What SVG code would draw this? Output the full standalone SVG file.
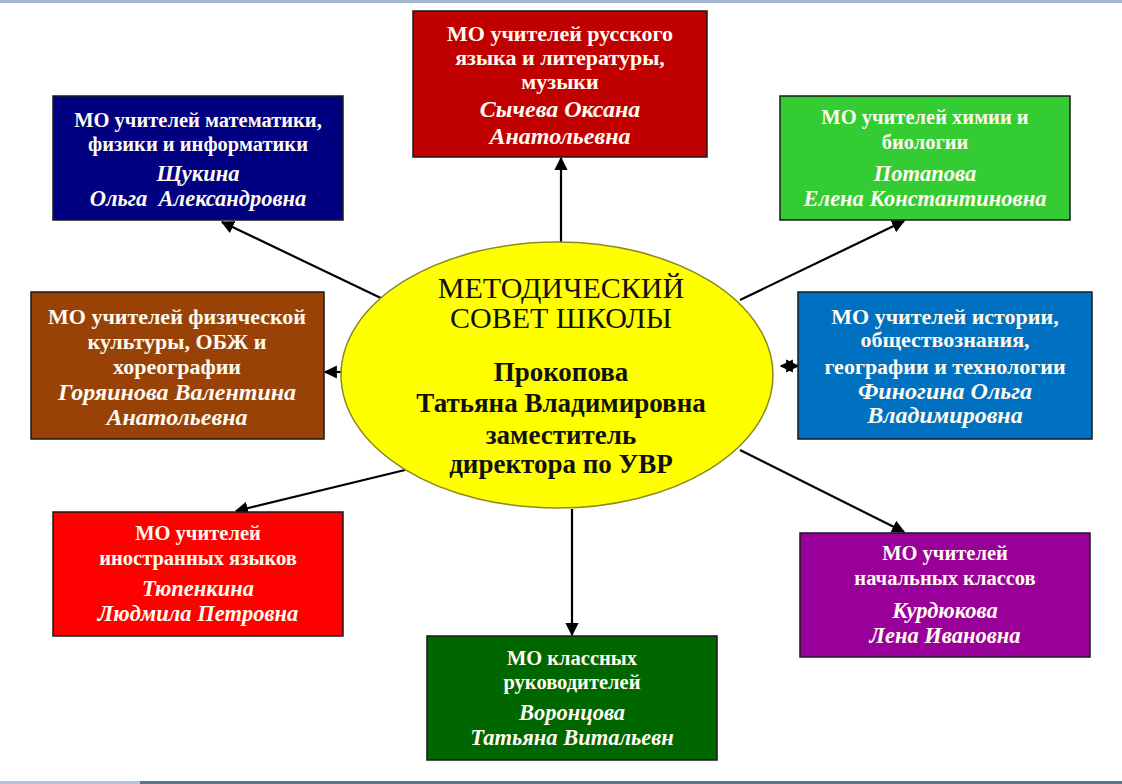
<svg xmlns="http://www.w3.org/2000/svg" width="1122" height="784" viewBox="0 0 1122 784">
<defs>
<style>
.box{stroke:#1a1a1a;stroke-width:1.5}
.t{font-family:"Liberation Serif",serif;font-weight:bold;fill:#fffbf0;text-anchor:middle}
.n{font-style:italic}
.s{font-size:20.5px}
.sn{font-size:22.5px}
.b{font-size:22px}
.bn{font-size:24px}
.c{font-family:"Liberation Serif",serif;fill:#111;text-anchor:middle}
.ln{stroke:#000;stroke-width:2.2;fill:none}
</style>
<marker id="ah" viewBox="0 0 10 10" refX="9" refY="5" markerWidth="6" markerHeight="6" markerUnits="strokeWidth" orient="auto-start-reverse">
<path d="M0,0 L10,5 L0,10 z" fill="#000"/>
</marker>
</defs>
<rect x="0" y="0" width="1122" height="784" fill="#ffffff"/>
<rect x="0" y="0" width="1122" height="3" fill="#a3b5cf"/>
<rect x="0" y="781" width="1122" height="3" fill="#5d7393"/>
<rect x="0" y="781" width="140" height="3" fill="#b6c4d8"/>

<g id="connectors">
<line class="ln" x1="561" y1="242" x2="561" y2="158" marker-end="url(#ah)"/>
<line class="ln" x1="385" y1="300" x2="222" y2="222" marker-end="url(#ah)"/>
<line class="ln" x1="740" y1="300" x2="904" y2="221" marker-end="url(#ah)"/>
<line class="ln" x1="343" y1="372" x2="325" y2="372" marker-end="url(#ah)"/>
<line class="ln" x1="781" y1="366" x2="798" y2="366" marker-start="url(#ah)" marker-end="url(#ah)"/>
<line class="ln" x1="405" y1="470" x2="236" y2="511" marker-end="url(#ah)"/>
<line class="ln" x1="572" y1="509" x2="572" y2="635" marker-end="url(#ah)"/>
<line class="ln" x1="740" y1="450" x2="904" y2="532" marker-end="url(#ah)"/>
</g>

<g id="center">
<ellipse cx="557" cy="375" rx="216" ry="133" fill="#ffff00" stroke="#8a8a20" stroke-width="1.5"/>
<text class="c" x="561" y="298" font-size="30">МЕТОДИЧЕСКИЙ</text>
<text class="c" x="561" y="328" font-size="30">СОВЕТ ШКОЛЫ</text>
<text class="c" x="561" y="381" font-size="27" font-weight="bold">Прокопова</text>
<text class="c" x="561" y="412" font-size="27" font-weight="bold">Татьяна Владимировна</text>
<text class="c" x="561" y="444" font-size="27" font-weight="bold">заместитель</text>
<text class="c" x="561" y="473" font-size="27" font-weight="bold">директора по УВР</text>
</g>

<g id="russian">
<rect class="box" x="413" y="11" width="294" height="146" fill="#c00000"/>
<text class="t b" x="560" y="41">МО учителей русского</text>
<text class="t b" x="560" y="65">языка и литературы,</text>
<text class="t b" x="560" y="89">музыки</text>
<text class="t n bn" x="560" y="117">Сычева Оксана</text>
<text class="t n bn" x="560" y="144">Анатольевна</text>
</g>

<g id="math">
<rect class="box" x="53" y="96" width="290" height="124" fill="#000080"/>
<text class="t s" x="198" y="127">МО учителей математики,</text>
<text class="t s" x="198" y="151">физики и информатики</text>
<text class="t n sn" x="198" y="181">Щукина</text>
<text class="t n sn" x="198" y="206" xml:space="preserve">Ольга  Александровна</text>
</g>

<g id="chem">
<rect class="box" x="780" y="96" width="290" height="124" fill="#33cc33"/>
<text class="t s" x="925" y="124">МО учителей химии и</text>
<text class="t s" x="925" y="149">биологии</text>
<text class="t n sn" x="925" y="181">Потапова</text>
<text class="t n sn" x="925" y="206">Елена Константиновна</text>
</g>

<g id="sport">
<rect class="box" x="31" y="292" width="293" height="147" fill="#984208"/>
<text class="t b" x="177" y="324">МО учителей физической</text>
<text class="t b" x="177" y="349">культуры, ОБЖ и</text>
<text class="t b" x="177" y="374">хореографии</text>
<text class="t n bn" x="177" y="400">Горяинова Валентина</text>
<text class="t n bn" x="177" y="425">Анатольевна</text>
</g>

<g id="history">
<rect class="box" x="798" y="292" width="294" height="147" fill="#0070c0"/>
<text class="t b" x="945" y="324">МО учителей истории,</text>
<text class="t b" x="945" y="347">обществознания,</text>
<text class="t b" x="945" y="374">географии и технологии</text>
<text class="t n bn" x="945" y="399">Финогина Ольга</text>
<text class="t n bn" x="945" y="423">Владимировна</text>
</g>

<g id="foreign">
<rect class="box" x="53" y="512" width="290" height="124" fill="#ff0000"/>
<text class="t s" x="198" y="540">МО учителей</text>
<text class="t s" x="198" y="565">иностранных языков</text>
<text class="t n sn" x="198" y="596">Тюпенкина</text>
<text class="t n sn" x="198" y="621">Людмила Петровна</text>
</g>

<g id="primary">
<rect class="box" x="800" y="533" width="290" height="124" fill="#990099"/>
<text class="t s" x="945" y="560">МО учителей</text>
<text class="t s" x="945" y="585">начальных классов</text>
<text class="t n sn" x="945" y="618">Курдюкова</text>
<text class="t n sn" x="945" y="643">Лена Ивановна</text>
</g>

<g id="class">
<rect class="box" x="427" y="636" width="290" height="124" fill="#006600"/>
<text class="t s" x="572" y="665">МО классных</text>
<text class="t s" x="572" y="689">руководителей</text>
<text class="t n sn" x="572" y="720">Воронцова</text>
<text class="t n sn" x="572" y="745">Татьяна Витальевн</text>
</g>
</svg>
